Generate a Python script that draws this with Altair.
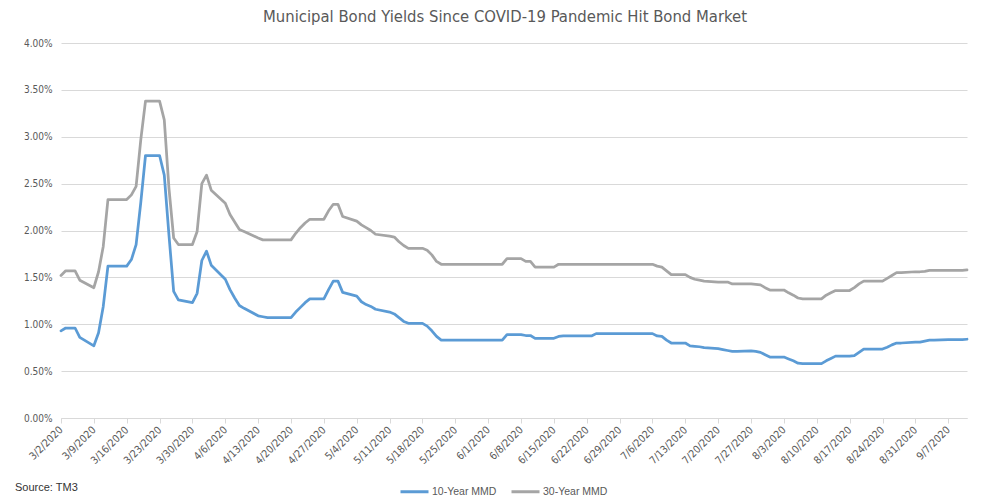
import altair as alt
import pandas as pd

# Trading days (weekdays) from 3/2/2020 through 9/11/2020
dates = pd.bdate_range("2020-03-02", "2020-09-11").strftime("%Y-%m-%d").tolist()

# 10-Year MMD yields (%), read week by week (Mon..Fri)
y10 = [
    0.93, 0.96, 0.96, 0.96, 0.86,
    0.77, 0.91, 1.19, 1.62, 1.62,
    1.62, 1.69, 1.85, 2.30, 2.80,
    2.80, 2.59, 1.95, 1.35, 1.26,
    1.23, 1.33, 1.68, 1.78, 1.63,
    1.48, 1.37, 1.28, 1.20, 1.17,
    1.09, 1.08, 1.07, 1.07, 1.07,
    1.07, 1.13, 1.18, 1.23, 1.27,
    1.27, 1.37, 1.46, 1.46, 1.34,
    1.30, 1.24, 1.21, 1.19, 1.16,
    1.13, 1.11, 1.07, 1.03, 1.01,
    1.01, 0.98, 0.93, 0.87, 0.83,
    0.83, 0.83, 0.83, 0.83, 0.83,
    0.83, 0.83, 0.83, 0.83, 0.89,
    0.89, 0.88, 0.88, 0.85, 0.85,
    0.85, 0.87, 0.875, 0.875, 0.875,
    0.875, 0.875, 0.90, 0.90, 0.90,
    0.90, 0.90, 0.90, 0.90, 0.90,
    0.90, 0.875, 0.87, 0.83, 0.80,
    0.80, 0.77, 0.765, 0.76, 0.75,
    0.74, 0.73, 0.72, 0.71, 0.71,
    0.715, 0.71, 0.70, 0.675, 0.65,
    0.65, 0.63, 0.61, 0.585, 0.58,
    0.58, 0.58, 0.61, 0.635, 0.66,
    0.66, 0.665, 0.70, 0.735, 0.735,
    0.735, 0.755, 0.78, 0.80, 0.80,
    0.81, 0.81, 0.82, 0.83, 0.83,
    0.835, 0.835, 0.835, 0.835, 0.84,
]

# 30-Year MMD yields (%)
y30 = [
    1.52, 1.57, 1.57, 1.57, 1.47,
    1.39, 1.56, 1.83, 2.33, 2.33,
    2.33, 2.38, 2.47, 2.97, 3.38,
    3.38, 3.18, 2.45, 1.92, 1.85,
    1.85, 1.99, 2.50, 2.59, 2.43,
    2.29, 2.17, 2.09, 2.01, 1.99,
    1.92, 1.90, 1.90, 1.90, 1.90,
    1.90, 1.97, 2.03, 2.08, 2.12,
    2.12, 2.21, 2.28, 2.28, 2.15,
    2.10, 2.06, 2.03, 2.00, 1.96,
    1.94, 1.93, 1.88, 1.84, 1.81,
    1.81, 1.79, 1.74, 1.67, 1.64,
    1.64, 1.64, 1.64, 1.64, 1.64,
    1.64, 1.64, 1.64, 1.64, 1.70,
    1.70, 1.67, 1.67, 1.61, 1.61,
    1.61, 1.64, 1.64, 1.64, 1.64,
    1.64, 1.64, 1.64, 1.64, 1.64,
    1.64, 1.64, 1.64, 1.64, 1.64,
    1.64, 1.62, 1.61, 1.57, 1.53,
    1.53, 1.50, 1.48, 1.47, 1.46,
    1.45, 1.45, 1.45, 1.43, 1.43,
    1.43, 1.425, 1.42, 1.39, 1.365,
    1.365, 1.335, 1.31, 1.28, 1.27,
    1.27, 1.27, 1.31, 1.335, 1.36,
    1.36, 1.39, 1.43, 1.46, 1.46,
    1.46, 1.49, 1.52, 1.55, 1.55,
    1.56, 1.56, 1.565, 1.575, 1.575,
    1.575, 1.575, 1.575, 1.575, 1.58,
]

series = ["10-Year MMD", "30-Year MMD"]
colors = ["#5B9BD5", "#A5A5A5"]
tick_dates = pd.date_range("2020-03-02", "2020-09-07", freq="7D")
y_ticks = [0, 0.5, 1.0, 1.5, 2.0, 2.5, 3.0, 3.5, 4.0]

title_text = "Municipal Bond Yields Since COVID-19 Pandemic Hit Bond Market"
source_text = "Source: TM3"

narrow = "DejaVu Sans Condensed, Liberation Sans Narrow, sans-serif"
arial = "Liberation Sans, Arial, sans-serif"

df = pd.DataFrame({
    "date": dates * 2,
    "yield": y10 + y30,
    "series": [series[0]] * len(dates) + [series[1]] * len(dates),
})

def dt(ts):
    return alt.DateTime(year=ts.year, month=ts.month, date=ts.day, utc=True)

x_domain = [dt(pd.Timestamp("2020-03-02")), dt(pd.Timestamp("2020-09-11"))]

lines = alt.Chart(df).mark_line(
    strokeWidth=2.75, strokeJoin="round", strokeCap="round"
).encode(
    x=alt.X(
        "date:T",
        scale=alt.Scale(type="utc", domain=x_domain),
        axis=alt.Axis(
            values=[dt(t) for t in tick_dates],
            labelExpr="utcFormat(datum.value, '%-m/%-d/%Y')",
            labelAngle=-45,
            labelAlign="right",
            labelBaseline="middle",
            labelFont=narrow,
            labelFontSize=10.5,
            labelColor="#595959",
            labelPadding=5,
            labelOverlap=False,
            labelFlush=False,
            tickColor="#D9D9D9",
            tickSize=5,
            domainColor="#D9D9D9",
            grid=False,
            title=None,
        ),
    ),
    y=alt.Y(
        "yield:Q",
        scale=alt.Scale(domain=[0, 4], nice=False),
        axis=alt.Axis(
            values=y_ticks,
            labelExpr="format(datum.value, '.2f') + '%'",
            labelFont=narrow,
            labelFontSize=10,
            labelColor="#595959",
            labelPadding=9,
            ticks=False,
            domain=False,
            gridColor="#D9D9D9",
            gridWidth=1,
            title=None,
        ),
    ),
    color=alt.Color(
        "series:N",
        scale=alt.Scale(domain=series, range=colors),
        legend=alt.Legend(
            orient="none",
            legendX=338,
            legendY=433,
            direction="horizontal",
            title=None,
            symbolType="stroke",
            symbolSize=784,
            symbolStrokeWidth=3,
            labelFont=arial,
            labelFontSize=10.5,
            labelColor="#595959",
            labelOffset=2,
            columnPadding=8,
            padding=0,
        ),
    ),
)

title = alt.Chart(pd.DataFrame({"t": [title_text]})).mark_text(
    font=narrow, fontSize=16.5, color="#595959", align="center", baseline="alphabetic"
).encode(text="t:N", x=alt.value(444), y=alt.value(-21))

source = alt.Chart(pd.DataFrame({"t": [source_text]})).mark_text(
    font=arial, fontSize=11, color="#333333", align="left", baseline="alphabetic"
).encode(text="t:N", x=alt.value(-46), y=alt.value(448))

chart = alt.layer(lines, title, source).properties(
    width=906,
    height=375,
    padding={"left": 53, "top": 35, "right": 15, "bottom": 80},
    autosize=alt.AutoSizeParams(type="none"),
).configure_view(stroke=None)

chart.save("out.html", embed_options={"renderer": "svg", "actions": False})
